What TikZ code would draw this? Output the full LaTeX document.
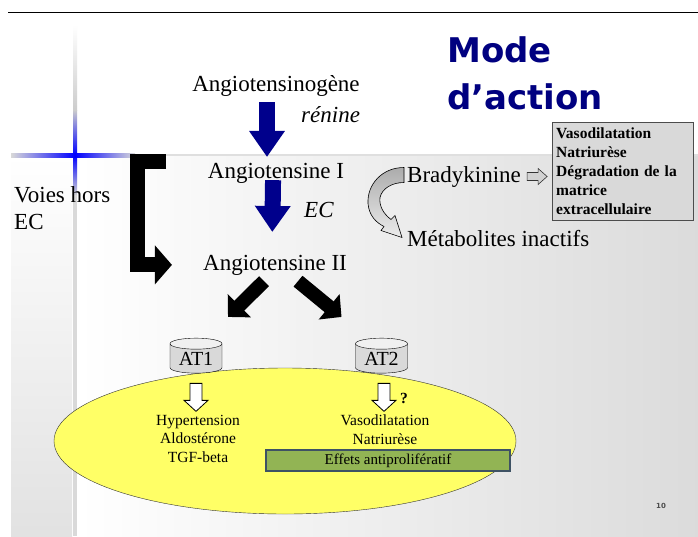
\documentclass[tikz,border=0pt]{standalone}
\usepackage{fontspec}
\setmainfont{Liberation Serif}
\newfontfamily\titlefont{DejaVu Sans}
\usetikzlibrary{shapes.geometric,arrows.meta,calc,positioning}

\definecolor{arrowblue}{RGB}{0,0,140}
\definecolor{titleblue}{RGB}{0,0,128}
\definecolor{cellyellow}{RGB}{255,255,102}
\definecolor{effgreen}{RGB}{146,180,84}
\definecolor{effborder}{RGB}{62,82,100}

\tikzstyle{label} = [font=\fontsize{23}{27}\selectfont, inner sep=0pt]
\tikzstyle{enzyme} = [font=\fontsize{23}{27}\selectfont\itshape, inner sep=0pt]
\tikzstyle{effect} = [font=\fontsize{15.5}{18.5}\selectfont, inner sep=0pt, align=center]
\tikzstyle{receptor} = [draw, cylinder, shape border rotate=90, aspect=0.32,
    minimum width=52pt, minimum height=35pt, inner sep=0pt,
    cylinder uses custom fill, cylinder body fill=gray!30, cylinder end fill=gray!12,
    font=\fontsize{20}{24}\selectfont]
\tikzstyle{bluearrow} = [line width=16pt, arrowblue, -{Triangle[width=34pt,length=26pt]}]
\tikzstyle{blackarrow} = [line width=14pt, black, -{Triangle[width=32pt,length=16pt]}]
\tikzstyle{hollow} = [draw=black, fill=white, line width=0.8pt]

\begin{document}
\begin{tikzpicture}[x=1pt, y=-1pt]
	\useasboundingbox (0,0) rectangle (698,536);

	% Slide background
	\fill[white] (0,0) rectangle (698,536);
	\shade[left color=white, right color=gray!28] (78,155) rectangle (698,536);
	\shade[top color=white, bottom color=gray!23] (11,155) rectangle (72,536);
	\draw[gray!25, line width=1.5pt] (135,155) -- (698,155);
	\draw[line width=1.3pt] (8,12.5) -- (698,12.5);

	% Blue cross
	\shade[top color=white, bottom color=gray!40] (73,25) rectangle (77,110);
	\shade[top color=gray!40, bottom color=blue] (73,110) rectangle (77,155);
	\shade[top color=blue, bottom color=gray!35] (73,155) rectangle (77,195);
	\fill[gray!30] (73,195) rectangle (77,536);
	\shade[left color=gray!30, right color=blue] (11,153) rectangle (75,157);
	\shade[left color=blue, right color=gray!30] (75,153) rectangle (135,157);

	% Title
	\node [anchor=base west, inner sep=0pt, text=titleblue,
		font=\titlefont\bfseries\fontsize{34}{40}\selectfont] (mode) at (447,62) {Mode};
	\node [anchor=base west, inner sep=0pt, text=titleblue,
		font=\titlefont\bfseries\fontsize{34}{40}\selectfont] (action) at (447,109) {d’action};

	% Cascade
	\node [label, anchor=base] (ang0) at (276,91) {Angiotensinogène};
	\node [label, anchor=base] (ang1) at (276,178) {Angiotensine I};
	\node [label, anchor=base] (ang2) at (275,270) {Angiotensine II};
	\node [enzyme, anchor=base west] (renine) at (301,122) {rénine};
	\node [enzyme, anchor=base west] (ec) at (304,217) {EC};
	\node [label, anchor=north west, align=left] (hors) at (14,186.3) {Voies hors\\EC};
	\coordinate (bracket) at (166,161);

	\draw [bluearrow, shorten <=6pt, shorten >=5.6pt]
		([xshift=-9pt]ang0.south) -- ([xshift=-9pt]ang1.north);
	\draw [bluearrow, shorten <=-3pt, shorten >=22.6pt]
		([xshift=-3pt]ang1.south) -- ([xshift=-3pt]ang2.north);
	\draw [line width=15pt, -{Triangle[width=38pt,length=17pt]}, shorten >=31pt]
		(bracket) -- ++(-28.5,0) |- (ang2.west);

	% Bradykinine branch
	\node [label, anchor=base west] (brady) at (407,182) {Bradykinine};
	\node [label, anchor=base west] (meta) at (407,246) {Métabolites inactifs};
	\node [draw=gray!60!black, fill=gray!30, anchor=north west, align=left,
		text width=133pt, minimum height=98pt, inner sep=4pt,
		font=\bfseries\fontsize{15.5}{19}\selectfont] (vaso) at (552,122)
		{Vasodilatation\\Natriurèse\\Dégradation de la\\matrice\\extracellulaire};

	\begin{scope}[shift={(brady.east)}]
		\draw[fill=gray!35, draw=gray!40!black, line width=0.6pt]
			(6,-4) -- (17,-4) -- (17,-8) -- (26,0) -- (17,8) -- (17,4) -- (6,4) -- cycle;
	\end{scope}
	\begin{scope}[shift={(brady.west)}]
		\shade[top color=gray!65, bottom color=gray!15, draw=black, line width=0.6pt]
			(-3,-9) .. controls (-25,-9) and (-40,8) .. (-39,27)
			.. controls (-38,39) and (-31,46) .. (-23,50)
			-- (-26,54) -- (-5,61) -- (-12,39) -- (-16,43)
			.. controls (-24,37) and (-28,29) .. (-27,21)
			.. controls (-25,12) and (-15,6) .. (-3,6) -- cycle;
	\end{scope}

	% Cell with receptors
	\node [ellipse, draw=black!80, fill=cellyellow, minimum width=462pt,
		minimum height=146pt] (cell) at (285,441) {};
	\node [receptor] (at1) at (196,358.5) {AT1};
	\node [receptor] (at2) at (381.5,358.5) {AT2};

	\draw [blackarrow] ($(ang2.south)+(-11,6)$) -- ($(at1.north)+(32,-21)$);
	\draw [blackarrow] ($(ang2.south)+(23,6)$) -- ($(at2.north)+(-40,-21)$);

	% Effects of each receptor
	\node [effect, anchor=north] (at1eff) at (198,415) {Hypertension\\Aldostérone\\TGF-beta};
	\node [effect, anchor=north] (at2eff) at (385,415) {Vasodilatation\\Natriurèse};
	\node [draw=effborder, line width=2pt, fill=effgreen, minimum width=244pt,
		minimum height=21pt, inner sep=0pt, font=\fontsize{15}{18}\selectfont]
		(prolif) at (388,460.5) {Effets antiprolifératif};

	\begin{scope}[shift={($(at1.south)+(0,10)$)}]
		\draw[hollow] (-6,0) -- (6,0) -- (6,17) -- (12,17) -- (0,28) -- (-12,17) -- (-6,17) -- cycle;
	\end{scope}
	\begin{scope}[shift={($(at2.south)+(2.5,10)$)}]
		\draw[hollow] (-6,0) -- (6,0) -- (6,17) -- (12,17) -- (0,28) -- (-12,17) -- (-6,17) -- cycle;
	\end{scope}
	\node [font=\bfseries\fontsize{15.5}{18}\selectfont, inner sep=0pt] (query) at (404,398) {?};

	% Page number
	\node [font=\titlefont\bfseries\fontsize{7}{8}\selectfont, text=gray!60!black] (pagenum) at (661,506) {10};
\end{tikzpicture}
\end{document}
